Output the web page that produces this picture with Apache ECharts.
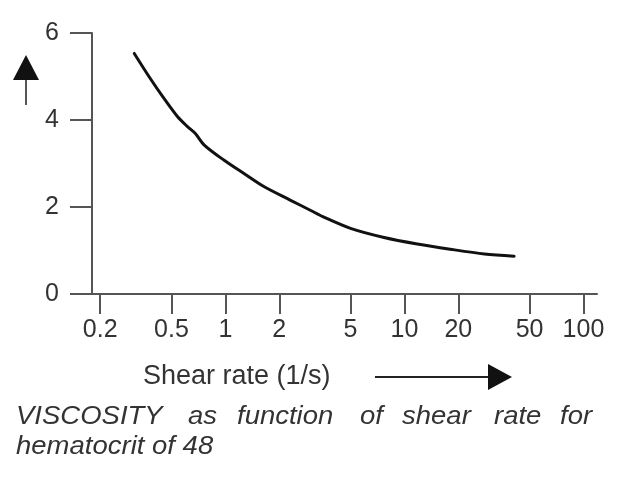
<!DOCTYPE html>
<html>
<head>
<meta charset="utf-8">
<script src="https://cdn.jsdelivr.net/npm/echarts@6/dist/echarts.min.js"></script>
<style>
  html, body { margin: 0; padding: 0; background: #fff; }
  #chart { width: 640px; height: 477px; }
</style>
</head>
<body>
<div id="chart"></div>
<script>
// shear rate (1/s) vs viscosity
const shearRate = [0.31, 0.38, 0.45, 0.54, 0.61, 0.68, 0.76, 0.98, 1.27, 1.64, 2.3, 3.0, 3.5, 5.0, 7.7, 11.8, 18, 28, 41];
const viscosity = [5.53, 4.96, 4.52, 4.08, 3.86, 3.69, 3.43, 3.08, 2.77, 2.47, 2.16, 1.92, 1.78, 1.51, 1.30, 1.15, 1.03, 0.92, 0.87];

const xTickValues = [0.2, 0.5, 1, 2, 5, 10, 20, 50, 100];
const xTickLabels = ['0.2', '0.5', '1', '2', '5', '10', '20', '50', '100'];

const captionLine1 = ['VISCOSITY', 'as', 'function', 'of', 'shear', 'rate', 'for'];
const captionLine2 = 'hematocrit of 48';
const xName = 'Shear rate (1/s)';

const axisColor = '#555';
const textColor = '#333';
const font = '"Liberation Sans", Arial, sans-serif';

const chart = echarts.init(document.getElementById('chart'));

function xLabel(v) {
  let best = 0;
  xTickValues.forEach(function (t, i) {
    if (Math.abs(Math.log10(t) - Math.log10(v)) < Math.abs(Math.log10(xTickValues[best]) - Math.log10(v))) best = i;
  });
  return xTickLabels[best];
}

// word starts for the justified caption line
const wordX = [16, 188, 237, 360, 402, 494, 560];

function captionWord(text, x, y) {
  return {
    type: 'text', x: x, y: y, scaleX: 1.1,
    style: { text: text, x: 0, y: 0, verticalAlign: 'middle', fill: textColor, fontSize: 25, fontStyle: 'italic', fontFamily: font }
  };
}

const option = {
  animation: false,
  grid: { left: 92, right: 43, top: 33, bottom: 183, containLabel: false, outerBoundsMode: 'none' },
  xAxis: {
    type: 'log',
    logBase: 10,
    min: 0.18,
    max: 119,
    axisLine: { show: true, lineStyle: { color: axisColor, width: 2 } },
    axisTick: { show: true, length: 20, customValues: xTickValues, lineStyle: { color: axisColor, width: 2 } },
    minorTick: { show: false },
    axisLabel: {
      customValues: xTickValues,
      formatter: xLabel,
      margin: 24,
      color: textColor,
      fontSize: 25,
      fontFamily: font
    },
    splitLine: { show: false }
  },
  yAxis: {
    type: 'value',
    min: 0,
    max: 6,
    interval: 2,
    axisLine: { show: true, lineStyle: { color: axisColor, width: 2 } },
    axisTick: { show: true, length: 22, lineStyle: { color: axisColor, width: 2 } },
    axisLabel: { margin: 33, color: textColor, fontSize: 25, fontFamily: font },
    splitLine: { show: false }
  },
  series: [{
    type: 'line',
    data: shearRate.map(function (x, i) { return [x, viscosity[i]]; }),
    smooth: 0.3,
    showSymbol: false,
    lineStyle: { color: '#111', width: 3, cap: 'round' }
  }],
  graphic: [
    // up arrow next to the y axis
    { type: 'line', shape: { x1: 26, y1: 78, x2: 26, y2: 105 }, style: { stroke: axisColor, lineWidth: 2 } },
    { type: 'polygon', shape: { points: [[13, 80], [39, 80], [26, 55]] }, style: { fill: '#111' } },
    // x axis name and arrow
    { type: 'text', style: { text: xName, x: 143, y: 377, verticalAlign: 'middle', fill: textColor, fontSize: 27, fontFamily: font } },
    { type: 'line', shape: { x1: 375, y1: 377, x2: 492, y2: 377 }, style: { stroke: '#222', lineWidth: 2 } },
    { type: 'polygon', shape: { points: [[488, 364], [488, 390], [512, 377]] }, style: { fill: '#111' } }
  ].concat(captionLine1.map(function (w, i) {
    return captionWord(w, wordX[i], 417);
  })).concat([
    captionWord(captionLine2, 16, 447)
  ])
};

chart.setOption(option);
</script>
</body>
</html>
